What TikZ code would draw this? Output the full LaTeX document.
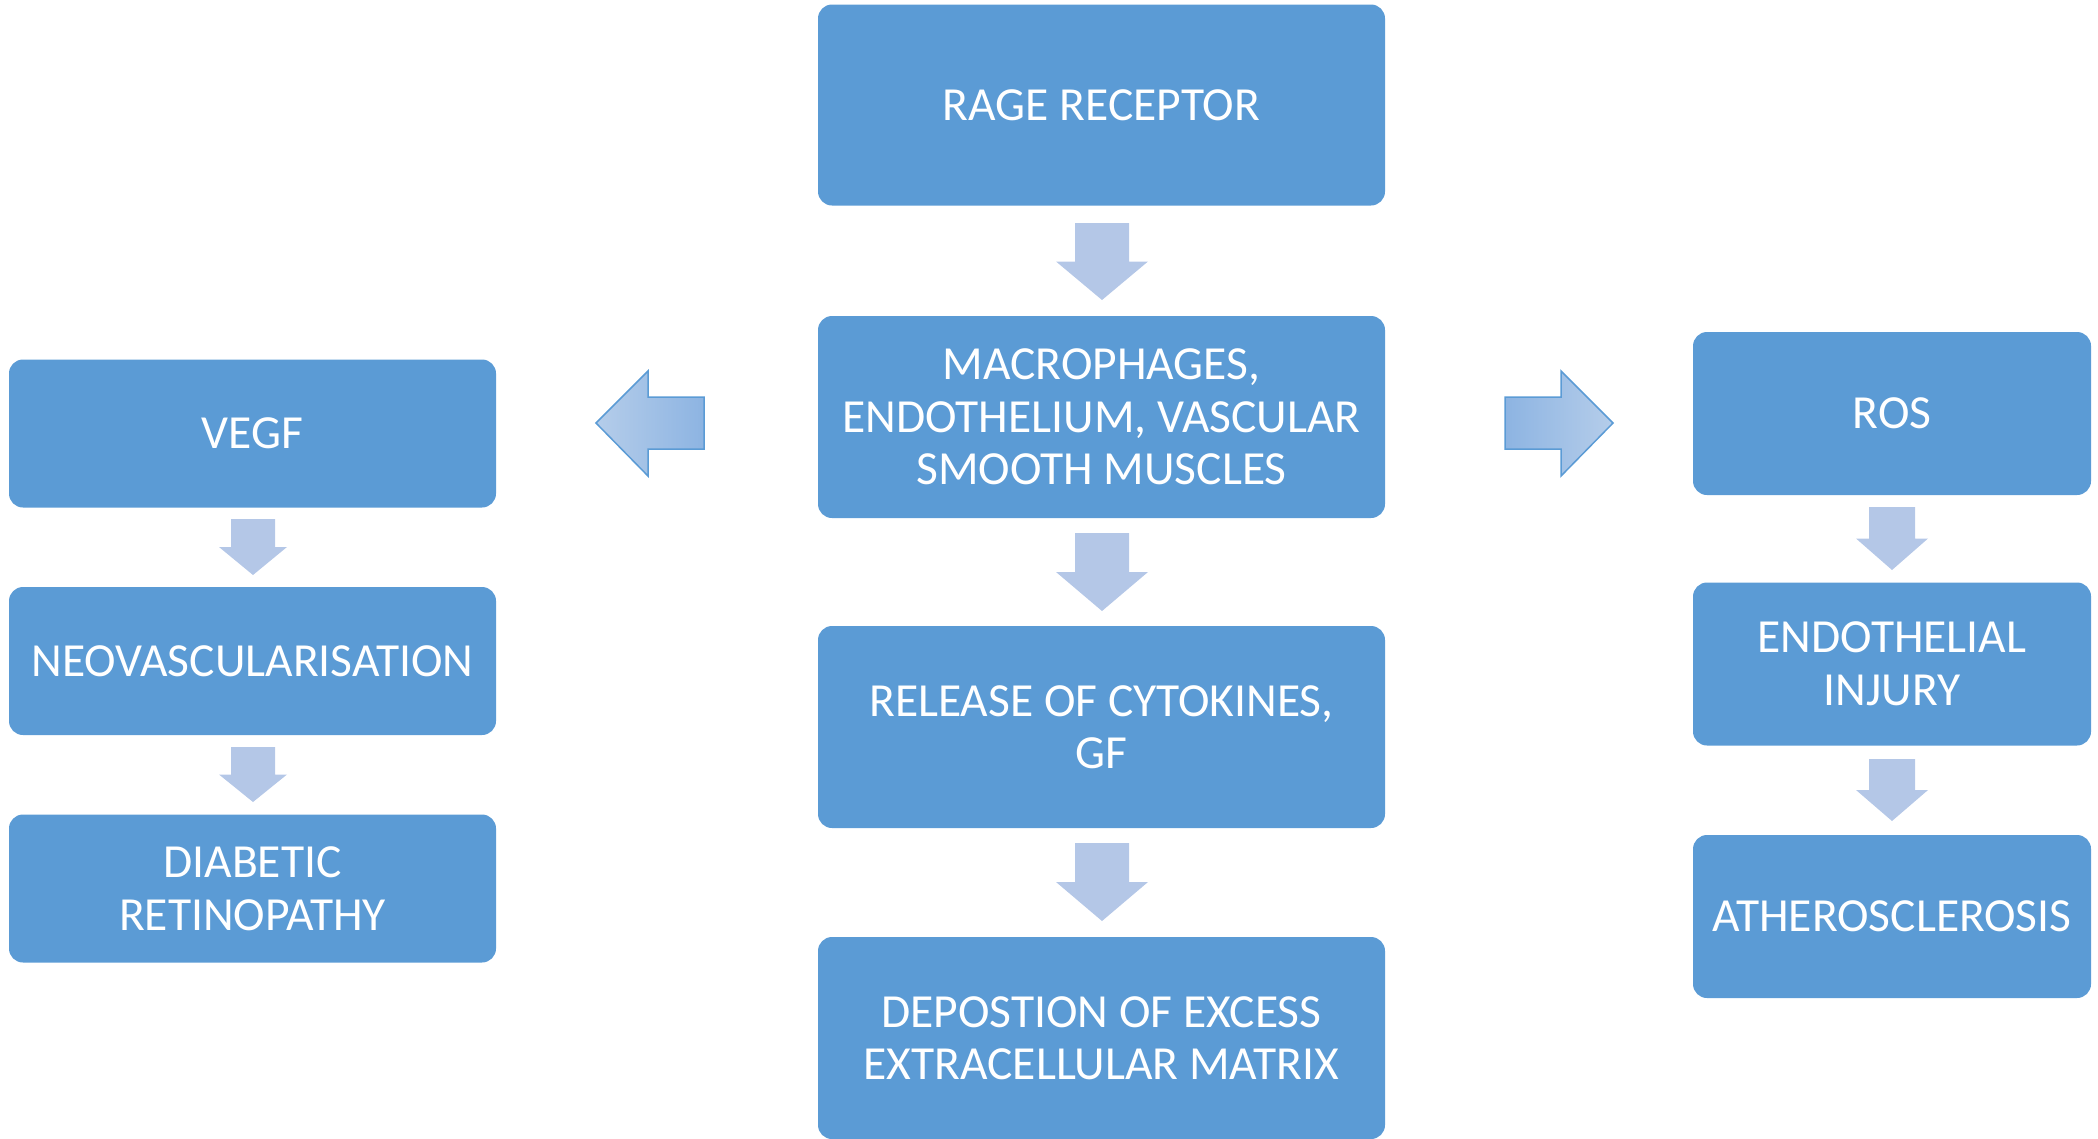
\documentclass[tikz,border=0pt]{standalone}
\usepackage{fontspec}
\setmainfont{Carlito}
\definecolor{boxblue}{HTML}{5B9BD5}
\definecolor{arrlight}{HTML}{B4C7E7}
\definecolor{gradlight}{HTML}{B5CDEA}
\definecolor{graddark}{HTML}{8DB4E2}
\tikzset{
  flowbox/.style={fill=boxblue, draw=none, rounded corners=14pt, text=white,
    font=\fontsize{47.5}{52.5}\selectfont, align=center, inner sep=0pt},
  downarr/.style={fill=arrlight, draw=none},
  sidearr/.style={draw=boxblue, line width=1.5pt, line join=miter}
}
% cx, top, bottom, shaft half width, head half width
\newcommand\blockdown[5]{%
  \path[downarr] ({#1-#4},#2) -- ({#1+#4},#2) -- ({#1+#4},{(#2+#3)/2}) -- ({#1+#5},{(#2+#3)/2})
   -- (#1,#3) -- ({#1-#5},{(#2+#3)/2}) -- ({#1-#4},{(#2+#3)/2}) -- cycle;}
\begin{document}
\begin{tikzpicture}[x=1pt,y=-1pt]
\useasboundingbox (0,0) rectangle (2098,1138);
\clip (0,0) rectangle (2098,1138);
% centre column
\node[flowbox, minimum width=567pt, minimum height=201pt] (rage) at (1101.5,105) {RAGE RECEPTOR};
\node[flowbox, minimum width=567pt, minimum height=202pt] (macro) at (1101.5,417) {MACROPHAGES,\\ENDOTHELIUM, VASCULAR\\SMOOTH MUSCLES};
\node[flowbox, minimum width=567pt, minimum height=202pt] (cyto) at (1101.5,727) {RELEASE OF CYTOKINES,\\GF};
\node[flowbox, minimum width=567pt, minimum height=202pt] (depo) at (1101.5,1038) {DEPOSTION OF EXCESS\\EXTRACELLULAR MATRIX};
% left column
\node[flowbox, minimum width=487pt, minimum height=148pt] (vegf) at (252.5,433.5) {VEGF};
\node[flowbox, minimum width=487pt, minimum height=148pt] (neo) at (252.5,661) {NEOVASCULARISATION};
\node[flowbox, minimum width=487pt, minimum height=148pt] (dr) at (252.5,888.5) {DIABETIC\\RETINOPATHY};
% right column
\node[flowbox, minimum width=398pt, minimum height=163pt] (ros) at (1892,413.5) {ROS};
\node[flowbox, minimum width=398pt, minimum height=163pt] (endo) at (1892,664) {ENDOTHELIAL\\INJURY};
\node[flowbox, minimum width=398pt, minimum height=163pt] (ath) at (1892,916.5) {ATHEROSCLEROSIS};
% down arrows
\blockdown{1102}{223}{300}{27}{46}
\blockdown{1102}{533}{611}{27}{46}
\blockdown{1102}{843}{921}{27}{46}
\blockdown{253}{519}{575}{22}{34}
\blockdown{253}{747}{802}{22}{34}
\blockdown{1892}{507}{570}{23}{36}
\blockdown{1892}{759}{821}{23}{36}
% side arrows
\path[sidearr, left color=gradlight, right color=graddark]
  (596,423) -- (648,371) -- (648,397) -- (704,397) -- (704,449) -- (648,449) -- (648,476) -- cycle;
\path[sidearr, left color=graddark, right color=gradlight]
  (1613,423) -- (1561,371) -- (1561,397) -- (1505,397) -- (1505,449) -- (1561,449) -- (1561,476) -- cycle;
\end{tikzpicture}
\end{document}
